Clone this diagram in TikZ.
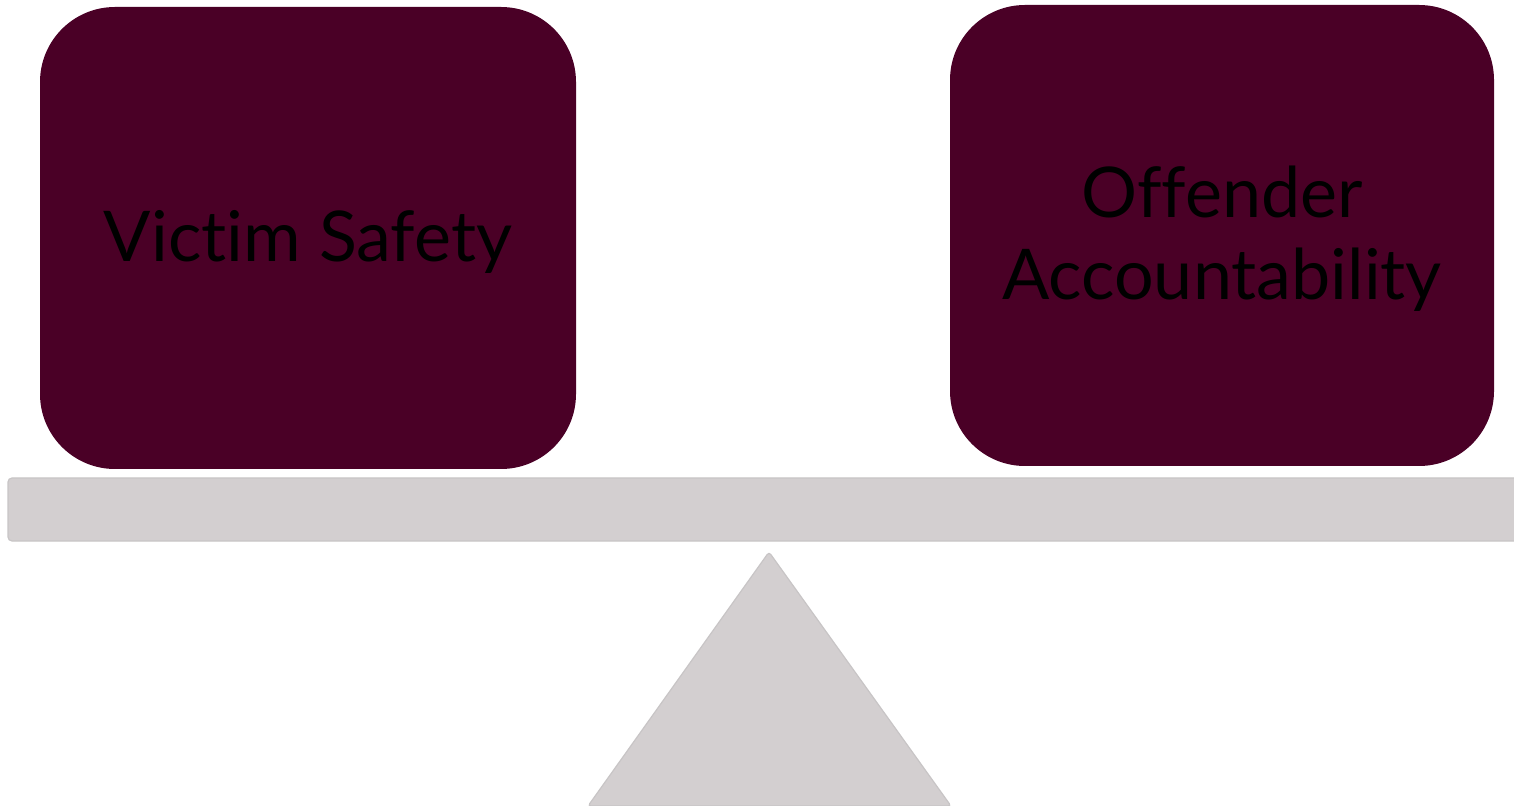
\documentclass[tikz,border=0pt]{standalone}
\usepackage{fontspec}
\setmainfont[Ligatures=NoCommon]{Lato}
\definecolor{boxc}{HTML}{4A0026}
\definecolor{beamc}{HTML}{D3CFD0}
\begin{document}
\begin{tikzpicture}[x=0.5pt,y=-0.5pt,
  pan/.style={fill=boxc,draw=none,rounded corners=37.5pt,inner sep=0pt},
  lab/.style={font=\fontsize{35}{41}\selectfont,text=black,align=center},
  beam/.style={fill=beamc,draw=beamc!95!black,line width=0.6pt}]
\useasboundingbox (0,0) rectangle (1514,806);
\fill[pan] (40,7) rectangle (576,469);
\fill[pan] (950,5) rectangle (1494,466);
\node[lab] (vs) at (308,242) {Victim Safety};
\node[lab] (oa) at (1222,239) {Offender\\Accountability};
\draw[beam,rounded corners=2pt] (8,478) rectangle (1530,541);
\draw[beam,rounded corners=1.5pt] (769,552) -- (951,806) -- (588,806) -- cycle;
\end{tikzpicture}
\end{document}
